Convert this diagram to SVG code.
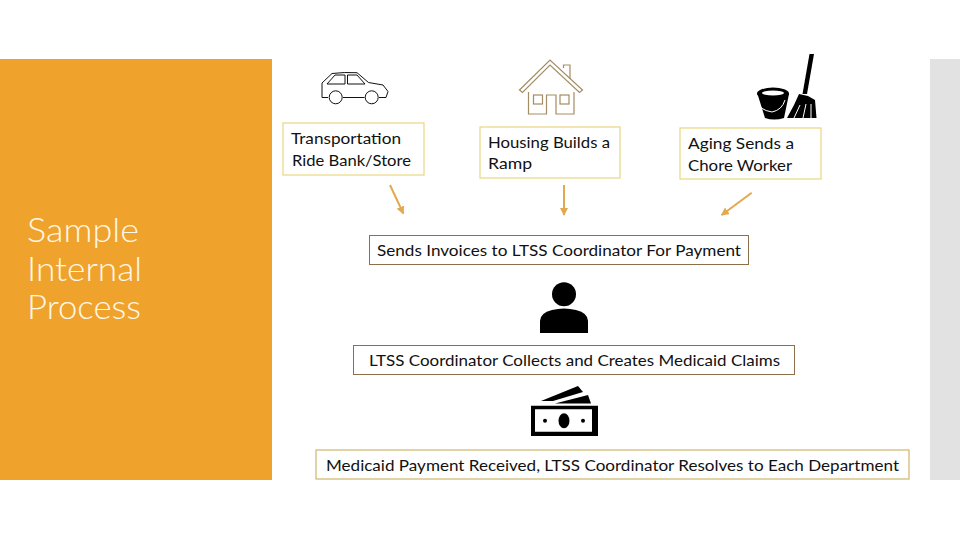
<svg xmlns="http://www.w3.org/2000/svg" width="960" height="540" viewBox="0 0 960 540">
<style>
text{font-family:"Lato","Open Sans","Liberation Sans",sans-serif;fill:#111}
.t{font-size:16px}
.y{fill:#fff;stroke:#EAD57F;stroke-width:1.2}
.b{fill:#fff;stroke:#8C704A;stroke-width:1}
.m{fill:#fff;stroke:#CDB66C;stroke-width:1.2}
.h{font-size:33px;fill:#FFF8E6;font-weight:300}
.c{fill:none;stroke:#E3A94F;stroke-width:2;marker-end:url(#a)}
.k{fill:#000}
</style>
<defs><marker id="a" markerUnits="userSpaceOnUse" markerWidth="9" markerHeight="9" refX="7" refY="4" orient="auto"><path d="M0 0L8 4L0 8Z" fill="#E3A94F"/></marker></defs>
<rect width="960" height="540" fill="#fff"/>
<rect x="0" y="59" width="272" height="421" fill="#EFA32D"/>
<rect x="930" y="59" width="30" height="421" fill="#E2E2E2"/>
<g id="title">
<text class="h" x="27" y="242" textLength="112" lengthAdjust="spacingAndGlyphs">Sample</text>
<text class="h" x="27" y="281" textLength="115" lengthAdjust="spacingAndGlyphs">Internal</text>
<text class="h" x="27" y="319" textLength="114" lengthAdjust="spacingAndGlyphs">Process</text>
</g>
<g id="car" fill="none" stroke="#111" stroke-width="1">
<path d="M328 97.500H322V83L332 73.500Q344 72 357 72.700L368.500 82.500L383 85L388 91.500L386 97.500H379M364.500 97.500H343"/>
<path d="M327 84L335 75H345V84ZM347.500 75H357L365 84H347.500Z"/>
<circle cx="335.700" cy="97.300" r="6.500"/><circle cx="371.700" cy="97.300" r="6.500"/>
</g>
<g id="house" fill="none" stroke="#A38D63" stroke-width="1.200">
<path d="M519.500 90L550 60L582.500 90L579.500 92.500L550 65L522.500 92.500Z"/>
<path d="M563.500 68V65H570V79"/>
<path d="M528.500 92V114H546.500V95H556V114H574V92"/>
<rect x="533.500" y="95" width="9" height="9"/><rect x="560" y="95" width="9" height="9"/>
</g>
<g id="bucket-broom">
<path class="k" d="M809.500 54H814L807 94H802.500Z"/>
<path class="k" d="M799 94L808 96L815 100L816.500 118H787L794 105Z"/>
<path d="M800 105L794 118M806 104L803 118M811 104L811 118" fill="none" stroke="#fff" stroke-width="1"/>
<ellipse class="k" cx="773" cy="93.500" rx="16" ry="6"/>
<path class="k" d="M757.500 94L789 94L784 118Q774 121 765 118Z"/>
<ellipse cx="773" cy="93" rx="11" ry="2.500" fill="#fff"/>
<path d="M757 101Q759 110 772 112Q782 110 785 100" fill="none" stroke="#fff" stroke-width="1"/>
</g>
<g id="transportation"><rect class="y" x="283" y="123" width="141" height="52"/>
<text class="t" x="291" y="144" textLength="110" lengthAdjust="spacingAndGlyphs">Transportation</text>
<text class="t" x="292" y="166" textLength="119" lengthAdjust="spacingAndGlyphs">Ride Bank/Store</text></g>
<g id="housing"><rect class="y" x="480" y="127" width="140" height="51"/>
<text class="t" x="488" y="148" textLength="122" lengthAdjust="spacingAndGlyphs">Housing Builds a</text>
<text class="t" x="488" y="169" textLength="44" lengthAdjust="spacingAndGlyphs">Ramp</text></g>
<g id="aging"><rect class="y" x="680" y="128" width="141" height="51"/>
<text class="t" x="688" y="149" textLength="106" lengthAdjust="spacingAndGlyphs">Aging Sends a</text>
<text class="t" x="688" y="171" textLength="104" lengthAdjust="spacingAndGlyphs">Chore Worker</text></g>
<g id="connectors">
<line class="c" x1="390" y1="185" x2="403.300" y2="213.500"/>
<line class="c" x1="564" y1="185" x2="564" y2="215"/>
<line class="c" x1="751.700" y1="192.700" x2="721.700" y2="215"/>
</g>
<g id="invoices"><rect class="b" x="369.500" y="235.500" width="379" height="29"/>
<text class="t" x="377" y="256" textLength="364" lengthAdjust="spacingAndGlyphs">Sends Invoices to LTSS Coordinator For Payment</text></g>
<g id="person">
<circle class="k" cx="564" cy="294.300" r="12"/>
<path class="k" d="M540 333V321Q540 313 552 310Q564 307 576 310Q588 313 588 321V333Z"/>
</g>
<g id="claims"><rect class="b" x="353.500" y="345.500" width="441" height="29"/>
<text class="t" x="369" y="366" textLength="411" lengthAdjust="spacingAndGlyphs">LTSS Coordinator Collects and Creates Medicaid Claims</text></g>
<g id="money">
<path class="k" d="M541 401L578 386L583 392L553 401Z"/>
<path class="k" d="M555 403.500L588 395L591 403.500Z"/>
<path class="k" fill-rule="evenodd" d="M531 405.700H598V436H531ZM535 409.300V431.700H592V409.300Z"/>
<ellipse class="k" cx="564" cy="420.700" rx="5.500" ry="7.500"/>
<circle class="k" cx="545" cy="420.700" r="2"/><circle class="k" cx="583" cy="420.700" r="2"/>
</g>
<g id="payment"><rect class="m" x="316" y="450" width="593" height="29"/>
<text class="t" x="326" y="471" textLength="573" lengthAdjust="spacingAndGlyphs">Medicaid Payment Received, LTSS Coordinator Resolves to Each Department</text></g>
</svg>
